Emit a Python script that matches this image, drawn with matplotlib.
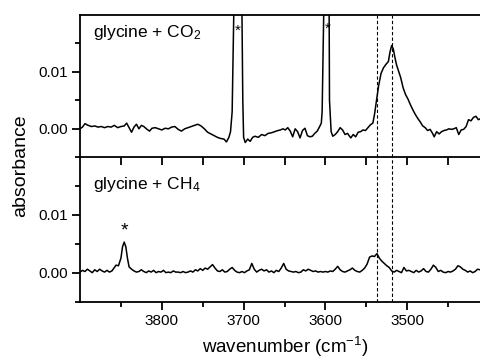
import matplotlib
matplotlib.use("Agg")
import matplotlib.pyplot as plt

plt.rcParams['font.family'] = ['Liberation Sans', 'DejaVu Sans']
plt.rcParams['mathtext.fontset'] = 'custom'
plt.rcParams['mathtext.rm'] = 'Liberation Sans'
plt.rcParams['mathtext.it'] = 'Liberation Sans:italic'
plt.rcParams['mathtext.bf'] = 'Liberation Sans:bold'

# glycine + CO2 spectrum
wn_co2 = [3900, 3897, 3894, 3890, 3886, 3882, 3878, 3874, 3870, 3866, 3862, 3858,
          3854, 3850, 3846, 3843, 3840, 3837, 3834, 3831, 3828, 3825, 3822, 3818,
          3815, 3812, 3808, 3804, 3800, 3796, 3792, 3788, 3784, 3780, 3776, 3772,
          3768, 3764, 3760, 3756, 3752, 3748, 3744, 3740, 3736, 3732, 3728, 3724,
          3721, 3718, 3716, 3714, 3712, 3710, 3707, 3704, 3702, 3701, 3700, 3698,
          3695, 3692, 3689, 3686, 3682, 3678, 3674, 3670, 3666, 3662, 3658, 3655,
          3652, 3649, 3646, 3643, 3640, 3637, 3634, 3631, 3628, 3625, 3622, 3619,
          3616, 3613, 3610, 3607, 3605, 3604, 3602, 3600, 3598, 3596, 3595, 3593,
          3591, 3588, 3585, 3582, 3579, 3576, 3573, 3569, 3566, 3563, 3560, 3557,
          3554, 3551, 3548, 3545, 3542, 3540, 3538, 3535, 3532, 3529, 3526, 3523,
          3521, 3519, 3517, 3515, 3513, 3511, 3508, 3505, 3502, 3499, 3496, 3493,
          3490, 3487, 3484, 3481, 3478, 3475, 3472, 3469, 3467, 3464, 3461, 3458,
          3455, 3452, 3449, 3446, 3443, 3440, 3437, 3434, 3431, 3428, 3425, 3422,
          3419, 3416, 3413, 3410]
abs_co2 = [0.0000, 0.0003, 0.0009, 0.0006, 0.0004, 0.0005, 0.0003, 0.0004, 0.0002, 0.0004, 0.0003, 0.0006,
           0.0002, 0.0004, 0.0005, 0.0010, 0.0002, -0.0006, 0.0003, 0.0008, 0.0000, 0.0006, 0.0004, -0.0001,
           -0.0004, 0.0001, 0.0002, 0.0000, -0.0002, 0.0001, 0.0000, 0.0003, 0.0004, -0.0001, -0.0004, 0.0000,
           0.0002, 0.0004, 0.0006, 0.0008, 0.0005, 0.0000, -0.0006, -0.0009, -0.0012, -0.0015, -0.0017, -0.0018,
           -0.0023, -0.0015, -0.0005, 0.0030, 0.0200, 0.0400, 0.0600, 0.0400, 0.0200, 0.0050, -0.0015, -0.0024,
           -0.0018, -0.0022, -0.0015, -0.0013, -0.0015, -0.0010, -0.0012, -0.0008, -0.0007, -0.0005, -0.0003, -0.0002,
           0.0000, -0.0002, 0.0002, -0.0004, -0.0014, 0.0000, -0.0005, -0.0016, -0.0003, 0.0001, -0.0012, -0.0014,
           -0.0013, -0.0008, -0.0004, 0.0004, 0.0010, 0.0030, 0.0200, 0.0450, 0.0550, 0.0400, 0.0050, -0.0005,
           -0.0013, -0.0010, -0.0005, 0.0002, -0.0002, -0.0010, -0.0008, -0.0016, -0.0010, -0.0014, -0.0006, -0.0005,
           -0.0002, -0.0003, 0.0002, 0.0007, 0.0010, 0.0025, 0.0045, 0.0075, 0.0097, 0.0107, 0.0113, 0.0118,
           0.0135, 0.0146, 0.0140, 0.0125, 0.0112, 0.0103, 0.0090, 0.0072, 0.0060, 0.0052, 0.0042, 0.0033,
           0.0025, 0.0018, 0.0012, 0.0005, 0.0002, -0.0003, -0.0001, -0.0008, -0.0014, -0.0005, -0.0009, -0.0005,
           -0.0003, -0.0002, 0.0000, -0.0001, 0.0000, 0.0002, -0.0010, -0.0002, -0.0001, 0.0004, 0.0016, 0.0014,
           0.0020, 0.0022, 0.0016, 0.0018]

# glycine + CH4 spectrum
wn_ch4 = [3900, 3897, 3894, 3891, 3888, 3885, 3882, 3879, 3876, 3873, 3870, 3867,
          3864, 3861, 3858, 3856, 3853, 3850, 3848, 3846, 3844, 3842, 3840, 3837,
          3834, 3831, 3828, 3825, 3822, 3819, 3816, 3813, 3810, 3807, 3804, 3801,
          3798, 3795, 3792, 3789, 3786, 3783, 3780, 3777, 3774, 3771, 3768, 3765,
          3762, 3759, 3756, 3753, 3750, 3747, 3744, 3741, 3738, 3735, 3732, 3729,
          3726, 3723, 3720, 3717, 3714, 3711, 3708, 3705, 3702, 3699, 3696, 3693,
          3690, 3687, 3684, 3681, 3678, 3675, 3672, 3669, 3666, 3663, 3660, 3657,
          3654, 3651, 3648, 3645, 3642, 3639, 3636, 3633, 3630, 3627, 3624, 3621,
          3618, 3615, 3612, 3609, 3606, 3603, 3600, 3597, 3594, 3591, 3588, 3585,
          3582, 3579, 3576, 3573, 3570, 3567, 3564, 3561, 3558, 3555, 3552, 3549,
          3546, 3543, 3540, 3537, 3534, 3531, 3528, 3525, 3522, 3519, 3516, 3513,
          3510, 3507, 3504, 3501, 3498, 3495, 3492, 3489, 3486, 3483, 3480, 3477,
          3474, 3471, 3468, 3465, 3462, 3459, 3456, 3453, 3450, 3447, 3444, 3441,
          3438, 3435, 3432, 3429, 3426, 3423, 3420, 3417, 3414, 3411]
abs_ch4 = [0.0001, 0.0004, 0.0002, 0.0006, 0.0003, 0.0000, 0.0005, 0.0002, 0.0006, 0.0003, 0.0001, 0.0004,
           0.0001, 0.0003, 0.0009, 0.0013, 0.0012, 0.0025, 0.0045, 0.0053, 0.0045, 0.0025, 0.0010, 0.0006,
           0.0003, 0.0001, 0.0002, 0.0005, 0.0002, 0.0000, 0.0003, 0.0001, 0.0004, 0.0000, 0.0002, 0.0001,
           0.0004, 0.0000, 0.0001, 0.0000, 0.0003, 0.0001, 0.0001, 0.0000, 0.0002, 0.0000, 0.0001, 0.0003,
           0.0001, 0.0005, 0.0003, 0.0007, 0.0004, 0.0008, 0.0006, 0.0010, 0.0014, 0.0008, 0.0003, 0.0002,
           0.0005, 0.0001, 0.0002, 0.0006, 0.0009, 0.0004, 0.0001, 0.0000, 0.0002, 0.0000, 0.0003, 0.0005,
           0.0016, 0.0006, 0.0001, 0.0004, 0.0006, 0.0003, 0.0005, 0.0001, 0.0003, 0.0000, 0.0004, 0.0002,
           0.0008, 0.0016, 0.0006, 0.0003, 0.0002, 0.0001, 0.0002, 0.0000, 0.0001, 0.0005, 0.0003, 0.0006,
           0.0004, 0.0002, 0.0003, 0.0001, 0.0002, 0.0001, 0.0002, 0.0001, 0.0003, 0.0002, 0.0006, 0.0011,
           0.0005, 0.0002, 0.0001, 0.0003, 0.0005, 0.0008, 0.0004, 0.0002, 0.0001, 0.0004, 0.0008, 0.0015,
           0.0027, 0.0029, 0.0028, 0.0033, 0.0025, 0.0020, 0.0016, 0.0012, 0.0009, 0.0003, 0.0001, 0.0004,
           0.0002, 0.0000, 0.0009, 0.0003, 0.0004, 0.0002, 0.0000, 0.0004, 0.0001, 0.0003, 0.0007, 0.0002,
           0.0001, 0.0006, 0.0013, 0.0009, 0.0002, 0.0004, 0.0001, 0.0000, 0.0002, 0.0001, 0.0003, 0.0006,
           0.0012, 0.0010, 0.0006, 0.0004, 0.0001, 0.0003, 0.0000, 0.0002, 0.0006, 0.0005]

# marked bands: (wavenumber, height of the asterisk)
star_co2_wn = [3707, 3597]
star_co2_y = [0.0172, 0.0176]
star_ch4_wn = [3846]
star_ch4_y = [0.0072]

dashed_wn = [3537, 3518]

fig = plt.figure(figsize=(4.8, 3.6), dpi=100)
ax1 = fig.add_axes([0.1667, 0.563, 0.8333, 0.396])
ax2 = fig.add_axes([0.1667, 0.1625, 0.8333, 0.4005])

for ax in (ax1, ax2):
    ax.set_facecolor('none')
    ax.set_xlim(3900, 3411)
    ax.set_ylim(-0.005, 0.02)
    ax.set_xticks([3800, 3700, 3600, 3500])
    ax.set_xticks([3850, 3750, 3650, 3550, 3450], minor=True)
    ax.set_yticks([0.0, 0.01])
    ax.set_yticks([-0.005, 0.005, 0.015], minor=True)
    ax.set_yticklabels(['0.00', '0.01'])
    ax.spines['right'].set_visible(False)
    for s in ('left', 'bottom', 'top'):
        ax.spines[s].set_linewidth(1.3)
    ax.tick_params(which='major', direction='out', length=6, width=1.3, labelsize=11, pad=3)
    ax.tick_params(which='minor', direction='out', length=3.5, width=1.3)
    for w in dashed_wn:
        ax.axvline(w, color='black', ls='--', lw=0.8, dashes=(3, 2))

ax1.tick_params(axis='x', which='both', labelbottom=False)
ax1.tick_params(axis='x', which='minor', length=6)
ax2.spines['top'].set_visible(False)

ax1.plot(wn_co2, abs_co2, color='black', lw=1.1)
ax2.plot(wn_ch4, abs_ch4, color='black', lw=1.1)

ax1.text(0.032, 0.842, 'glycine + CO$_2$', transform=ax1.transAxes, fontsize=12.5, va='baseline')
ax2.text(0.032, 0.778, 'glycine + CH$_4$', transform=ax2.transAxes, fontsize=12.5, va='baseline')

for w, y in zip(star_co2_wn, star_co2_y):
    ax1.text(w, y, '*', fontsize=11, ha='center', va='center')
for w, y in zip(star_ch4_wn, star_ch4_y):
    ax2.text(w, y, '*', fontsize=14, ha='center', va='center')

fig.text(0.042, 0.54, 'absorbance', rotation=90, fontsize=14, ha='center', va='center')
fig.text(0.595, 0.02, 'wavenumber (cm$^{-1}$)', fontsize=13.5, ha='center', va='baseline')

fig.savefig('out.png', dpi=100)
